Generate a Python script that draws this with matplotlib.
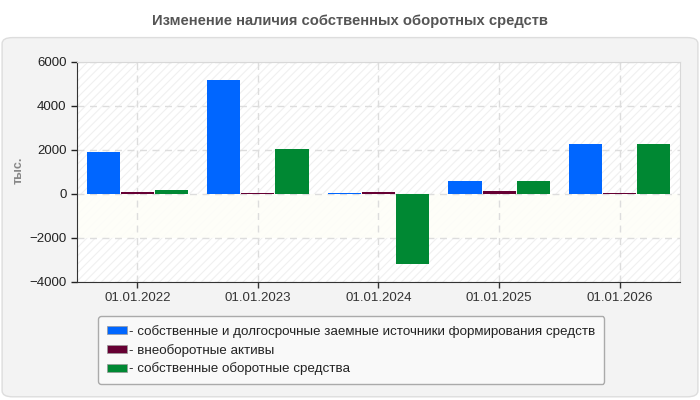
import numpy as np
import matplotlib
matplotlib.use("Agg")
import matplotlib.pyplot as plt
from matplotlib.patches import FancyBboxPatch, Patch

plt.rcParams['font.family'] = ['Liberation Sans', 'DejaVu Sans']
plt.rcParams['hatch.linewidth'] = 0.8

# данные
dates = ['01.01.2022', '01.01.2023', '01.01.2024', '01.01.2025', '01.01.2026']
own_long = [1920, 5200, 50, 600, 2280]
noncurrent = [70, 60, 100, 130, 60]
own_working = [190, 2060, -3180, 600, 2280]

labels = ['- собственные и долгосрочные заемные источники формирования средств',
          '- внеоборотные активы',
          '- собственные оборотные средства']
colors = ['#0066ff', '#660033', '#008833']

fig = plt.figure(figsize=(7, 4), dpi=100)
fig.patch.set_facecolor('white')

# серая панель с закруглёнными углами
panel = FancyBboxPatch((0.003, 0.008), 0.994, 0.898, boxstyle='round,pad=0,rounding_size=0.015',
                       transform=fig.transFigure, facecolor='#f3f3f3', edgecolor='#dddddd',
                       linewidth=1, zorder=-10)
fig.patches.append(panel)

fig.text(0.5, 0.948, 'Изменение наличия собственных оборотных средств',
         ha='center', va='center', fontsize=10.6, fontweight='bold', color='#555555')

ax = fig.add_axes([0.11, 0.295, 0.8614, 0.55])
ax.set_facecolor('white')

# фон: штриховка + светлая полоса
ax.axhspan(-4000, 6000, facecolor='none', edgecolor='#f0f0f0', hatch='////',
           linewidth=0, zorder=0)
ax.axhspan(-2000, 0, facecolor='#fefef8', edgecolor='none', alpha=0.9, zorder=0.5)

x = np.arange(len(dates))
w = 0.275
step = 0.283
series = [own_long, noncurrent, own_working]
for i, vals in enumerate(series):
    ax.bar(x + (i - 1) * step, vals, width=w, color=colors[i], zorder=3, linewidth=0)

ax.set_xlim(-0.5, 4.5)
ax.set_ylim(-4000, 6000)
ax.set_yticks(range(-4000, 6001, 2000))
ax.set_xticks(x)
ax.set_xticklabels(dates)
ax.tick_params(axis='both', labelsize=9.5, colors='#222222', length=4, width=1)
ax.tick_params(axis='x', colors='#333333')

ax.grid(True, linestyle=(0, (5, 4)), color='#dddddd', linewidth=1, zorder=1)
ax.set_axisbelow(True)

for s in ['left', 'bottom']:
    ax.spines[s].set_color('#333333')
for s in ['top', 'right']:
    ax.spines[s].set_color('#d8d8d8')

fig.text(0.026, 0.575, 'тыс.', rotation=90, ha='center', va='center',
         fontsize=9, fontweight='bold', color='#888888')

handles = [Patch(facecolor=c, edgecolor='#999999', linewidth=0.5) for c in colors]
leg = fig.legend(handles, labels, loc='upper left', bbox_to_anchor=(0.14, 0.21),
                 bbox_transform=fig.transFigure, fontsize=9.6, frameon=True,
                 fancybox=True, handlelength=1.5, handleheight=0.6, handletextpad=0.2,
                 labelspacing=0.45, borderpad=0.65, borderaxespad=0, labelcolor='#222222')
leg.get_frame().set_facecolor('#f9f9f9')
leg.get_frame().set_edgecolor('#aaaaaa')
leg.get_frame().set_alpha(1)

fig.savefig('out.png', dpi=100, facecolor=fig.get_facecolor())
